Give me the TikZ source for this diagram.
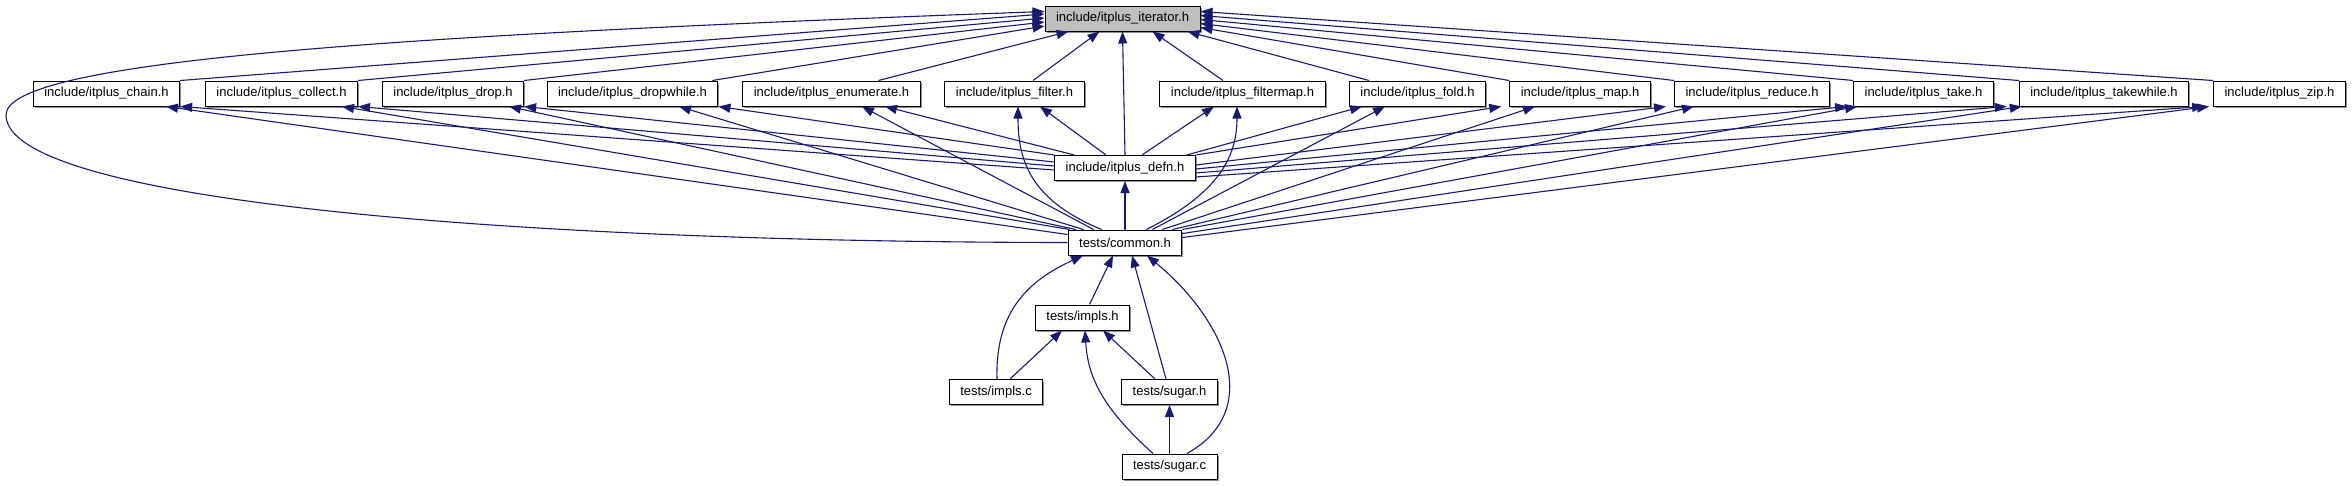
\documentclass[tikz,border=0pt]{standalone}
\usepackage{fontspec}
\setmainfont{Liberation Sans}
\usetikzlibrary{arrows.meta,calc,shadows}
\definecolor{edgeblue}{HTML}{191970}
\begin{document}
\begin{tikzpicture}[
    x=1pt,
    y=-1pt,
    file/.style={
        draw=black,
        line width=1pt,
        fill=white,
        minimum height=25pt,
        inner xsep=11pt,
        inner ysep=0pt,
        font=\fontsize{13}{15}\selectfont,
        drop shadow={shadow xshift=1.5pt,shadow yshift=-1.5pt,fill=black!45,opacity=1}
    },
    root/.style={
        file,
        fill=black!25
    },
    inc/.style={
        draw=edgeblue,
        line width=1.1pt,
        -{Triangle[length=12pt,width=9pt,fill=edgeblue]}
    }
]
    \useasboundingbox (0,0) rectangle (2352,485);

    % top row
    \node[root] (iter) at (1122.5,18.5) {include/itplus\_iterator.h};

    % header row
    \node[file] (chain)     at (106.5,93.5)  {include/itplus\_chain.h};
    \node[file] (collect)   at (281.5,93.5)  {include/itplus\_collect.h};
    \node[file] (drop)      at (453,93.5)    {include/itplus\_drop.h};
    \node[file] (dropwhile) at (632.5,93.5)  {include/itplus\_dropwhile.h};
    \node[file] (enumerate) at (831.5,93.5)  {include/itplus\_enumerate.h};
    \node[file] (filter)    at (1014.5,93.5) {include/itplus\_filter.h};
    \node[file] (filtermap) at (1242.5,93.5) {include/itplus\_filtermap.h};
    \node[file] (fold)      at (1417.5,93.5) {include/itplus\_fold.h};
    \node[file] (map)       at (1580,93.5)   {include/itplus\_map.h};
    \node[file] (reduce)    at (1752,93.5)   {include/itplus\_reduce.h};
    \node[file] (take)      at (1923.5,93.5) {include/itplus\_take.h};
    \node[file] (takewhile) at (2104,93.5)   {include/itplus\_takewhile.h};
    \node[file] (zip)       at (2279.5,93.5) {include/itplus\_zip.h};

    % lower part
    \node[file] (defn)   at (1125,168)    {include/itplus\_defn.h};
    \node[file] (common) at (1125,242.5)  {tests/common.h};
    \node[file] (implsh) at (1082.5,317.5) {tests/impls.h};
    \node[file] (implsc) at (996,392)     {tests/impls.c};
    \node[file] (sugarh) at (1169.5,392)  {tests/sugar.h};
    \node[file] (sugarc) at (1169.5,466.5) {tests/sugar.c};

    % headers -> iterator
    \draw[inc] (chain.north east) -- ($(iter.west)+(0,-4.5)$);
    \draw[inc] (collect.north east) -- ($(iter.west)+(0,-0.5)$);
    \draw[inc] (drop.north east) -- ($(iter.west)+(0,3.5)$);
    \draw[inc] ($(dropwhile.north east)+(-6,0)$) -- ($(iter.west)+(0,7.5)$);
    \draw[inc] ($(enumerate.north)+(47,0)$) -- ($(iter.south)+(-54,0)$);
    \draw[inc] ($(filter.north)+(18.5,0)$) -- ($(iter.south)+(-23,0)$);
    \draw[inc] (defn.north) -- (iter.south);
    \draw[inc] ($(filtermap.north)+(-19.5,0)$) -- ($(iter.south)+(30,0)$);
    \draw[inc] ($(fold.north)+(-48.5,0)$) -- ($(iter.south)+(65,0)$);
    \draw[inc] (map.north west) -- ($(iter.east)+(0,9)$);
    \draw[inc] (reduce.north west) -- ($(iter.east)+(0,5)$);
    \draw[inc] (take.north west) -- ($(iter.east)+(0,1)$);
    \draw[inc] (takewhile.north west) -- ($(iter.east)+(0,-3)$);
    \draw[inc] (zip.north west) -- ($(iter.east)+(0,-7)$);

    % defn -> headers
    \draw[inc] ($(defn.west)+(0,2)$) -- (chain.south east);
    \draw[inc] ($(defn.west)+(0,-2)$) -- (collect.south east);
    \draw[inc] ($(defn.west)+(0,-6)$) -- (drop.south east);
    \draw[inc] (defn.north west) -- (dropwhile.south east);
    \draw[inc] ($(defn.north west)+(20,0)$) -- ($(enumerate.south)+(53.5,0)$);
    \draw[inc] ($(defn.north)+(-19,0)$) -- ($(filter.south)+(25.5,0)$);
    \draw[inc] ($(defn.north)+(17,0)$) -- ($(filtermap.south)+(-28.5,0)$);
    \draw[inc] ($(defn.north east)+(-9,0)$) -- ($(fold.south)+(-55.5,0)$);
    \draw[inc] (defn.north east) -- ($(map.south west)+(-8,0)$);
    \draw[inc] ($(defn.east)+(0,-3)$) -- ($(reduce.south west)+(-8,0)$);
    \draw[inc] ($(defn.east)+(0,1)$) -- ($(take.south west)+(-6,0)$);
    \draw[inc] ($(defn.east)+(0,5)$) -- ($(takewhile.south west)+(-12,0)$);
    \draw[inc] ($(defn.east)+(0,9)$) -- ($(zip.south west)+(-9,0)$);

    % common -> headers
    \draw[inc] ($(common.north west)+(0,5)$) -- ($(chain.south)+(59.5,0)$);
    \draw[inc] ($(common.north west)+(2,0)$) -- ($(collect.south)+(60.5,0)$);
    \draw[inc] ($(common.north west)+(8,0)$) -- ($(drop.south)+(56,0)$);
    \draw[inc] ($(common.north west)+(16,0)$) -- ($(dropwhile.south)+(46.5,0)$);
    \draw[inc] ($(common.north west)+(26,0)$) -- ($(enumerate.south)+(30.5,0)$);
    \draw[inc] ($(common.north west)+(34,0)$)
        .. controls (1030,200) and (1018,160) .. ($(filter.south)+(3.5,0)$);
    \draw[inc] ($(common.north east)+(-36,0)$)
        .. controls (1215,195) and (1237,160) .. ($(filtermap.south)+(-5.5,0)$);
    \draw[inc] ($(common.north east)+(-30,0)$) -- ($(fold.south)+(-32.5,0)$);
    \draw[inc] ($(common.north east)+(-20,0)$) -- ($(map.south)+(-45,0)$);
    \draw[inc] ($(common.north east)+(-10,0)$) -- ($(reduce.south)+(-58,0)$);
    \draw[inc] (common.north east) -- ($(take.south west)+(4,0)$);
    \draw[inc] ($(common.north east)+(0,4)$) -- ($(takewhile.south west)+(3,0)$);
    \draw[inc] ($(common.north east)+(0,8)$) -- ($(zip.south west)+(-4,0)$);

    % common -> defn, common -> iterator
    \draw[inc] (common.north) -- (defn.south);
    \draw[inc] (common.west)
        .. controls (500,242) and (6,200) .. (6,115)
        .. controls (6,60) and (400,35) .. ($(iter.west)+(0,-7)$);

    % tests
    \draw[inc] ($(implsh.north)+(7,0)$) -- ($(common.south)+(-12,0)$);
    \draw[inc] ($(implsc.north)+(1,0)$)
        .. controls (995,310) and (1030,280) .. ($(common.south)+(-42,0)$);
    \draw[inc] ($(implsc.north)+(14,0)$) -- ($(implsh.south)+(-20.5,0)$);
    \draw[inc] ($(sugarh.north)+(-14.5,0)$) -- ($(implsh.south)+(20.5,0)$);
    \draw[inc] ($(sugarh.north)+(-3.5,0)$) -- ($(common.south)+(7,0)$);
    \draw[inc] (sugarc.north) -- (sugarh.south);
    \draw[inc] ($(sugarc.north)+(-16.5,0)$)
        .. controls (1105,410) and (1088,380) .. ($(implsh.south)+(2.5,0)$);
    \draw[inc] ($(sugarc.north)+(17.5,0)$)
        .. controls (1265,410) and (1225,320) .. ($(common.south)+(22,0)$);

\end{tikzpicture}
\end{document}
